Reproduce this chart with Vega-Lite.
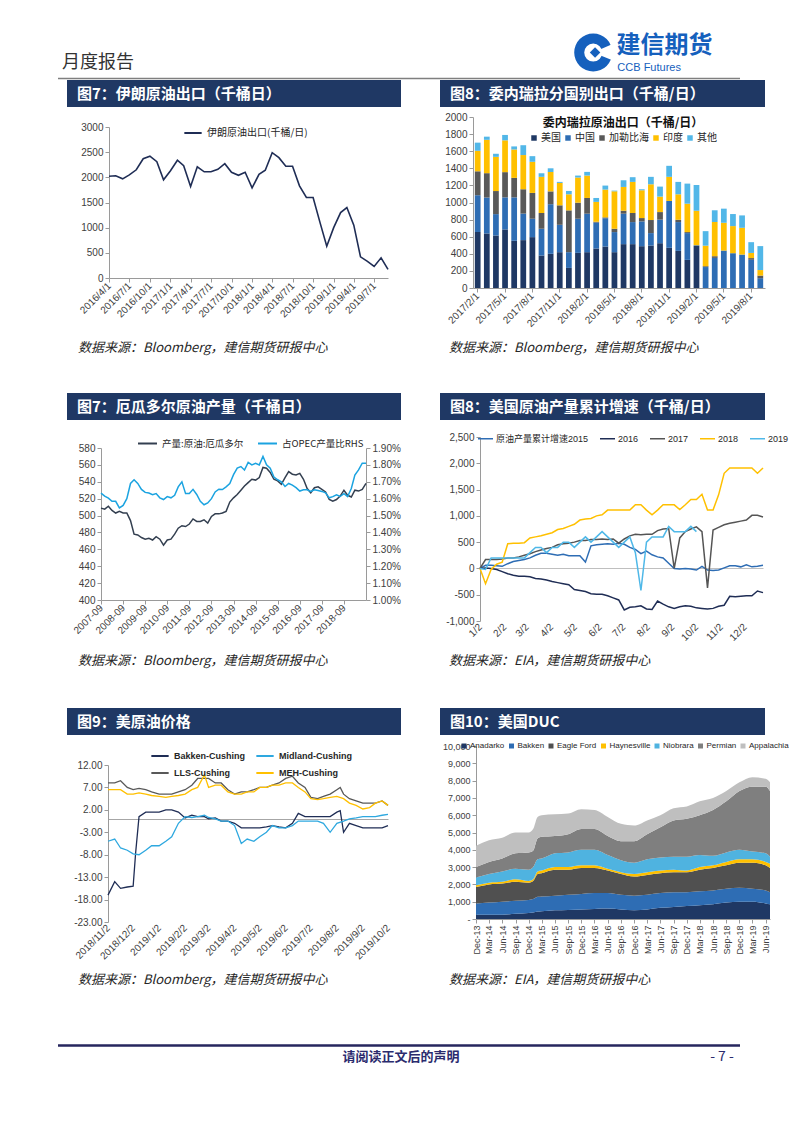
{
"$schema": "https://vega.github.io/schema/vega-lite/v6.json",
"background": "white",
"padding": 0,
"autosize": {"type": "pad"},
"columns": 4,
"spacing": 0,
"align": "each",
"bounds": "flush",
"resolve": {"scale": {"color": "independent", "strokeWidth": "independent", "x": "independent", "y": "independent"}, "legend": {"color": "independent", "strokeWidth": "independent"}, "axis": {"x": "independent", "y": "independent"}},
"config": {
  "view": {"stroke": null},
  "font": "Noto Sans CJK SC",
  "axis": {"labelFont": "Liberation Sans", "labelFontSize": 10, "labelColor": "#404040", "domainColor": "#9A9A9A", "tickColor": "#9A9A9A", "tickSize": 4, "grid": false, "labelPadding": 2, "labelOverlap": false, "labelFlush": false, "labelBound": false},
  "legend": {"labelFont": "Noto Sans CJK SC", "labelFontSize": 10, "labelColor": "#262626", "padding": 0},
  "text": {"font": "Noto Sans CJK SC"}
},
"concat": [
{"width":67,"height":1,"data":{"values":[]},"mark":"point"},
{"width":1,"height":33,"data":{"values":[]},"mark":"point"},
{"width":39,"height":1,"data":{"values":[]},"mark":"point"},
{"width":1,"height":1,"data":{"values":[]},"mark":"point"},

{"width":67,"height":1,"data":{"values":[]},"mark":"point"},
{"width":334,"height":44,"data":{"values":[{"文字":"月度报告"}]},"mark":{"type":"text","align":"left","baseline":"bottom","dx":-5,"dy":-5,"fontSize":18,"color":"#333333"},"encoding":{"text":{"field":"文字"},"x":{"datum":0,"type":"quantitative","scale":{"domain":[0,1]},"axis":null},"y":{"datum":0,"type":"quantitative","scale":{"domain":[0,1]},"axis":null}}},
{"width":39,"height":1,"data":{"values":[]},"mark":"point"},
{"width":325,"height":44,"data":{"values":[{"中文":"建信期货","英文":"CCB Futures"}]},"layer":[
  {"mark":{"type":"arc","innerRadius":9,"outerRadius":19,"theta":0,"theta2":6.2832,"color":"#1560BD"},"encoding":{"x":{"datum":165,"type":"quantitative","scale":{"domain":[0,325]},"axis":null},"y":{"datum":20,"type":"quantitative","scale":{"domain":[0,44],"reverse":true},"axis":null}}},
  {"mark":{"type":"arc","innerRadius":8,"outerRadius":20,"theta":1.15,"theta2":1.95,"color":"white"},"encoding":{"x":{"datum":165,"type":"quantitative","axis":null},"y":{"datum":20,"type":"quantitative","axis":null}}},
  {"mark":{"type":"point","shape":"diamond","filled":true,"size":110,"color":"#1560BD","opacity":1},"encoding":{"x":{"datum":167,"type":"quantitative","axis":null},"y":{"datum":20,"type":"quantitative","axis":null}}},
  {"mark":{"type":"text","align":"left","baseline":"top","fontSize":24,"fontWeight":"bold","color":"#1560BD"},"encoding":{"text":{"field":"中文"},"x":{"datum":190,"type":"quantitative","axis":null},"y":{"datum":1,"type":"quantitative","axis":null}}},
  {"mark":{"type":"text","align":"left","baseline":"bottom","fontSize":11,"font":"Liberation Sans","color":"#1560BD"},"encoding":{"text":{"field":"英文"},"x":{"datum":191,"type":"quantitative","axis":null},"y":{"datum":41,"type":"quantitative","axis":null}}}
]},

{"width":67,"height":3,"data":{"values":[{}]},"mark":{"type":"rule","color":"#7F7F7F","strokeWidth":1.5},"encoding":{"x":{"datum":58,"type":"quantitative","scale":{"domain":[0,67]},"axis":null},"x2":{"datum":67},"y":{"datum":0.5,"type":"quantitative","scale":{"domain":[0,1]},"axis":null}}},
{"width":334,"height":3,"data":{"values":[{}]},"mark":{"type":"rule","color":"#7F7F7F","strokeWidth":1.5},"encoding":{"y":{"datum":0.5,"type":"quantitative","scale":{"domain":[0,1]},"axis":null}}},
{"width":39,"height":3,"data":{"values":[{}]},"mark":{"type":"rule","color":"#7F7F7F","strokeWidth":1.5},"encoding":{"y":{"datum":0.5,"type":"quantitative","scale":{"domain":[0,1]},"axis":null}}},
{"width":325,"height":3,"data":{"values":[{}]},"mark":{"type":"rule","color":"#7F7F7F","strokeWidth":1.5},"encoding":{"x":{"datum":0,"type":"quantitative","scale":{"domain":[0,325]},"axis":null},"x2":{"datum":300},"y":{"datum":0.5,"type":"quantitative","scale":{"domain":[0,1]},"axis":null}}},

{"width":67,"height":1,"data":{"values":[]},"mark":"point"},
{"width":334,"height":27,"view":{"fill":"#1F3864"},"data":{"values":[{"标题":"图7：伊朗原油出口（千桶日）"}]},"mark":{"type":"text","align":"left","baseline":"middle","dx":10,"fontSize":15,"fontWeight":"bold","color":"white"},"encoding":{"text":{"field":"标题"},"x":{"datum":0,"type":"quantitative","scale":{"domain":[0,1]},"axis":null}}},
{"width":39,"height":1,"data":{"values":[]},"mark":"point"},
{"width":325,"height":27,"view":{"fill":"#1F3864"},"data":{"values":[{"标题":"图8：委内瑞拉分国别出口（千桶/日）"}]},"mark":{"type":"text","align":"left","baseline":"middle","dx":10,"fontSize":15,"fontWeight":"bold","color":"white"},"encoding":{"text":{"field":"标题"},"x":{"datum":0,"type":"quantitative","scale":{"domain":[0,1]},"axis":null}}},

{"width":67,"height":1,"data":{"values":[]},"mark":"point"},
{"width":1,"height":10,"data":{"values":[]},"mark":"point"},
{"width":39,"height":1,"data":{"values":[]},"mark":"point"},
{"width":1,"height":1,"data":{"values":[]},"mark":"point"},

{"width":67,"height":1,"data":{"values":[]},"mark":"point"},
{"width":334,"height":171,
 "data":{"values":[
  {"月份":"2016-04-01","出口":2020},{"月份":"2016-05-01","出口":2030},{"月份":"2016-06-01","出口":1970},{"月份":"2016-07-01","出口":2050},{"月份":"2016-08-01","出口":2150},{"月份":"2016-09-01","出口":2370},{"月份":"2016-10-01","出口":2420},{"月份":"2016-11-01","出口":2310},{"月份":"2016-12-01","出口":1950},
  {"月份":"2017-01-01","出口":2130},{"月份":"2017-02-01","出口":2340},{"月份":"2017-03-01","出口":2230},{"月份":"2017-04-01","出口":1820},{"月份":"2017-05-01","出口":2210},{"月份":"2017-06-01","出口":2110},{"月份":"2017-07-01","出口":2110},{"月份":"2017-08-01","出口":2160},{"月份":"2017-09-01","出口":2270},{"月份":"2017-10-01","出口":2100},{"月份":"2017-11-01","出口":2040},{"月份":"2017-12-01","出口":2100},
  {"月份":"2018-01-01","出口":1790},{"月份":"2018-02-01","出口":2060},{"月份":"2018-03-01","出口":2140},{"月份":"2018-04-01","出口":2490},{"月份":"2018-05-01","出口":2390},{"月份":"2018-06-01","出口":2220},{"月份":"2018-07-01","出口":2220},{"月份":"2018-08-01","出口":1830},{"月份":"2018-09-01","出口":1600},{"月份":"2018-10-01","出口":1600},{"月份":"2018-11-01","出口":1100},{"月份":"2018-12-01","出口":630},
  {"月份":"2019-01-01","出口":1000},{"月份":"2019-02-01","出口":1300},{"月份":"2019-03-01","出口":1400},{"月份":"2019-04-01","出口":1050},{"月份":"2019-05-01","出口":420},{"月份":"2019-06-01","出口":330},{"月份":"2019-07-01","出口":230},{"月份":"2019-08-01","出口":400},{"月份":"2019-09-01","出口":170}
 ]},
 "mark":{"type":"line","strokeWidth":1.6},
 "encoding":{
  "x":{"field":"月份","type":"temporal","scale":{"type":"utc","range":[42,321],"domain":[{"year":2016,"month":4,"date":1,"utc":true},{"year":2019,"month":9,"date":1,"utc":true}]},
       "axis":{"title":null,"offset":-10,"format":"%Y/%-m/%-d","labelAngle":-45,"labelAlign":"right","labelBaseline":"middle",
       "values":[{"year":2016,"month":4,"date":1,"utc":true},{"year":2016,"month":7,"date":1,"utc":true},{"year":2016,"month":10,"date":1,"utc":true},{"year":2017,"month":1,"date":1,"utc":true},{"year":2017,"month":4,"date":1,"utc":true},{"year":2017,"month":7,"date":1,"utc":true},{"year":2017,"month":10,"date":1,"utc":true},{"year":2018,"month":1,"date":1,"utc":true},{"year":2018,"month":4,"date":1,"utc":true},{"year":2018,"month":7,"date":1,"utc":true},{"year":2018,"month":10,"date":1,"utc":true},{"year":2019,"month":1,"date":1,"utc":true},{"year":2019,"month":4,"date":1,"utc":true},{"year":2019,"month":7,"date":1,"utc":true}]}},
  "y":{"field":"出口","type":"quantitative","scale":{"domain":[0,3000],"range":[161,10]},"axis":{"title":null,"offset":-42,"format":"d","labelOverlap":false,"values":[0,500,1000,1500,2000,2500,3000]}},
  "color":{"datum":"伊朗原油出口(千桶/日)","type":"nominal","scale":{"domain":["伊朗原油出口(千桶/日)"],"range":["#1F2D55"]},"legend":{"orient":"none","legendX":116,"legendY":6,"title":null,"symbolType":"stroke","symbolSize":300,"symbolStrokeWidth":2}}
 }},
{"width":39,"height":1,"data":{"values":[]},"mark":"point"},
{"width":325,"height":171,
 "data":{"values":[
  {"月份":"2017/2/1","美国":655,"中国":430,"加勒比海":280,"印度":240,"其他":95},
  {"月份":"2017/3/1","美国":638,"中国":420,"加勒比海":285,"印度":390,"其他":37},
  {"月份":"2017/4/1","美国":614,"中国":250,"加勒比海":270,"印度":400,"其他":36},
  {"月份":"2017/5/1","美国":685,"中国":375,"加勒比海":295,"印度":372,"其他":63},
  {"月份":"2017/6/1","美国":552,"中国":508,"加勒比海":228,"印度":332,"其他":36},
  {"月份":"2017/7/1","美国":560,"中国":310,"加勒比海":285,"印度":400,"其他":115},
  {"月份":"2017/8/1","美国":595,"中国":215,"加勒比海":302,"印度":364,"其他":66},
  {"月份":"2017/9/1","美国":380,"中国":313,"加勒比海":184,"印度":423,"其他":42},
  {"月份":"2017/10/1","美国":400,"中国":580,"加勒比海":150,"印度":227,"其他":43},
  {"月份":"2017/11/1","美国":419,"中国":320,"加勒比海":228,"印度":262,"其他":12},
  {"月份":"2017/12/1","美国":235,"中国":184,"加勒比海":489,"印度":188,"其他":39},
  {"月份":"2018/1/1","美国":411,"中国":399,"加勒比海":188,"印度":294,"其他":23},
  {"月份":"2018/2/1","美国":419,"中国":450,"加勒比海":184,"印度":262,"其他":43},
  {"月份":"2018/3/1","美国":462,"中国":303,"加勒比海":10,"印度":232,"其他":46},
  {"月份":"2018/4/1","美国":485,"中国":331,"加勒比海":10,"印度":325,"其他":47},
  {"月份":"2018/5/1","美国":419,"中国":235,"加勒比海":39,"印度":438,"其他":8},
  {"月份":"2018/6/1","美国":513,"中国":356,"加勒比海":35,"印度":278,"其他":78},
  {"月份":"2018/7/1","美国":513,"中国":258,"加勒比海":106,"印度":364,"其他":55},
  {"月份":"2018/8/1","美国":489,"中国":290,"加勒比海":39,"印度":325,"其他":12},
  {"月份":"2018/9/1","美国":497,"中国":145,"加勒比海":153,"印度":418,"其他":87},
  {"月份":"2018/10/1","美国":524,"中国":276,"加勒比海":88,"印度":181,"其他":117},
  {"月份":"2018/11/1","美国":470,"中国":548,"加勒比海":0,"印度":282,"其他":129},
  {"月份":"2018/12/1","美国":434,"中国":337,"加勒比海":27,"印度":298,"其他":145},
  {"月份":"2019/1/1","美国":329,"中国":313,"加勒比海":12,"印度":332,"其他":235},
  {"月份":"2019/2/1","美国":490,"中国":10,"加勒比海":0,"印度":403,"其他":302},
  {"月份":"2019/3/1","美国":0,"中国":245,"加勒比海":10,"印度":240,"其他":170},
  {"月份":"2019/4/1","美国":0,"中国":352,"加勒比海":20,"印度":400,"其他":137},
  {"月份":"2019/5/1","美国":0,"中国":438,"加勒比海":0,"印度":325,"其他":165},
  {"月份":"2019/6/1","美国":0,"中国":407,"加勒比海":0,"印度":317,"其他":141},
  {"月份":"2019/7/1","美国":0,"中国":391,"加勒比海":0,"印度":313,"其他":145},
  {"月份":"2019/8/1","美国":0,"中国":330,"加勒比海":20,"印度":60,"其他":126},
  {"月份":"2019/9/1","美国":0,"中国":115,"加勒比海":30,"印度":65,"其他":280}
 ]},
 "transform":[
  {"fold":["美国","中国","加勒比海","印度","其他"],"as":["去向","千桶日"]},
  {"lookup":"去向","from":{"data":{"values":[{"去向":"美国","序":1},{"去向":"中国","序":2},{"去向":"加勒比海","序":3},{"去向":"印度","序":4},{"去向":"其他","序":5}]},"key":"去向","fields":["序"]}}
 ],
 "mark":{"type":"bar"},
 "encoding":{
  "x":{"field":"月份","type":"ordinal","sort":null,"scale":{"range":[33,325],"paddingInner":0.37,"paddingOuter":0.2},"axis":{"title":null,"labelAngle":-45,"labelAlign":"right","labelBaseline":"middle","values":["2017/2/1","2017/5/1","2017/8/1","2017/11/1","2018/2/1","2018/5/1","2018/8/1","2018/11/1","2019/2/1","2019/5/1","2019/8/1"]}},
  "y":{"field":"千桶日","type":"quantitative","stack":"zero","scale":{"domain":[0,2000]},"axis":{"title":null,"offset":-33,"format":"d","labelOverlap":false,"values":[0,200,400,600,800,1000,1200,1400,1600,1800,2000]}},
  "color":{"field":"去向","type":"nominal","scale":{"domain":["美国","中国","加勒比海","印度","其他"],"range":["#1F3864","#2E6DB4","#595959","#FFC000","#52B7E8"]},
    "legend":{"orient":"none","legendX":89,"legendY":1,"direction":"horizontal","title":"委内瑞拉原油出口（千桶/日）","titleFontSize":12,"titleFontWeight":"bold","titleColor":"#111111","titleAnchor":"middle","titleLimit":400,"titlePadding":3,"symbolType":"square","symbolSize":30,"columnPadding":2,"labelOffset":2}},
  "order":{"field":"序","type":"quantitative"}
 }},

{"width":67,"height":1,"data":{"values":[]},"mark":"point"},
{"width":1,"height":50,"data":{"values":[]},"mark":"point"},
{"width":39,"height":1,"data":{"values":[]},"mark":"point"},
{"width":1,"height":1,"data":{"values":[]},"mark":"point"},

{"width":67,"height":1,"data":{"values":[]},"mark":"point"},
{"width":334,"height":20,"data":{"values":[{"来源":"数据来源：Bloomberg，建信期货研报中心"}]},"mark":{"type":"text","align":"left","baseline":"middle","dx":11,"fontSize":13,"fontStyle":"italic","color":"#262626"},"encoding":{"text":{"field":"来源"},"x":{"datum":0,"type":"quantitative","scale":{"domain":[0,1]},"axis":null}}},
{"width":39,"height":1,"data":{"values":[]},"mark":"point"},
{"width":325,"height":20,"data":{"values":[{"来源":"数据来源：Bloomberg，建信期货研报中心"}]},"mark":{"type":"text","align":"left","baseline":"middle","dx":9,"fontSize":13,"fontStyle":"italic","color":"#262626"},"encoding":{"text":{"field":"来源"},"x":{"datum":0,"type":"quantitative","scale":{"domain":[0,1]},"axis":null}}},

{"width":67,"height":1,"data":{"values":[]},"mark":"point"},
{"width":1,"height":35,"data":{"values":[]},"mark":"point"},
{"width":39,"height":1,"data":{"values":[]},"mark":"point"},
{"width":1,"height":1,"data":{"values":[]},"mark":"point"},

{"width":67,"height":1,"data":{"values":[]},"mark":"point"},
{"width":334,"height":27,"view":{"fill":"#1F3864"},"data":{"values":[{"标题":"图7：厄瓜多尔原油产量（千桶日）"}]},"mark":{"type":"text","align":"left","baseline":"middle","dx":10,"fontSize":15,"fontWeight":"bold","color":"white"},"encoding":{"text":{"field":"标题"},"x":{"datum":0,"type":"quantitative","scale":{"domain":[0,1]},"axis":null}}},
{"width":39,"height":1,"data":{"values":[]},"mark":"point"},
{"width":325,"height":27,"view":{"fill":"#1F3864"},"data":{"values":[{"标题":"图8：美国原油产量累计增速（千桶/日）"}]},"mark":{"type":"text","align":"left","baseline":"middle","dx":10,"fontSize":15,"fontWeight":"bold","color":"white"},"encoding":{"text":{"field":"标题"},"x":{"datum":0,"type":"quantitative","scale":{"domain":[0,1]},"axis":null}}},

{"width":67,"height":1,"data":{"values":[]},"mark":"point"},
{"width":1,"height":17,"data":{"values":[]},"mark":"point"},
{"width":39,"height":1,"data":{"values":[]},"mark":"point"},
{"width":1,"height":1,"data":{"values":[]},"mark":"point"},

{"width":67,"height":1,"data":{"values":[]},"mark":"point"},
{"width":334,"height":184,
 "data":{"values":[
  {"月份":"2007-09-01","产量":508.8,"占比":0.01633},{"月份":"2007-11-01","产量":507.6,"占比":0.01615},{"月份":"2008-01-01","产量":511,"占比":0.01603},{"月份":"2008-03-01","产量":506,"占比":0.01584},{"月份":"2008-05-01","产量":503,"占比":0.01584},{"月份":"2008-07-01","产量":505,"占比":0.01545},{"月份":"2008-09-01","产量":503,"占比":0.0156},{"月份":"2008-11-01","产量":503,"占比":0.016},
  {"月份":"2009-01-01","产量":494,"占比":0.0169},{"月份":"2009-03-01","产量":478,"占比":0.01712},{"月份":"2009-05-01","产量":477,"占比":0.0169},{"月份":"2009-07-01","产量":474,"占比":0.01655},{"月份":"2009-09-01","产量":472,"占比":0.01637},{"月份":"2009-11-01","产量":473,"占比":0.01633},
  {"月份":"2010-01-01","产量":471,"占比":0.01623},{"月份":"2010-03-01","产量":475,"占比":0.0163},{"月份":"2010-05-01","产量":472,"占比":0.01605},{"月份":"2010-07-01","产量":465,"占比":0.01595},{"月份":"2010-09-01","产量":471,"占比":0.01612},{"月份":"2010-11-01","产量":472,"占比":0.01605},
  {"月份":"2011-01-01","产量":478,"占比":0.0162},{"月份":"2011-03-01","产量":485,"占比":0.0167},{"月份":"2011-05-01","产量":488,"占比":0.017},{"月份":"2011-07-01","产量":487,"占比":0.0163},{"月份":"2011-09-01","产量":490,"占比":0.0163},{"月份":"2011-11-01","产量":496,"占比":0.01655},
  {"月份":"2012-01-01","产量":493,"占比":0.01625},{"月份":"2012-03-01","产量":493,"占比":0.01584},{"月份":"2012-05-01","产量":495,"占比":0.01564},{"月份":"2012-07-01","产量":491,"占比":0.01575},{"月份":"2012-09-01","产量":499,"占比":0.016},{"月份":"2012-11-01","产量":502,"占比":0.0164},
  {"月份":"2013-01-01","产量":502,"占比":0.01656},{"月份":"2013-03-01","产量":503,"占比":0.01654},{"月份":"2013-05-01","产量":505,"占比":0.0167},{"月份":"2013-07-01","产量":516,"占比":0.0169},{"月份":"2013-09-01","产量":521,"占比":0.01742},{"月份":"2013-11-01","产量":525,"占比":0.01781},
  {"月份":"2014-01-01","产量":530,"占比":0.0179},{"月份":"2014-03-01","产量":535,"占比":0.0177},{"月份":"2014-05-01","产量":539,"占比":0.01815},{"月份":"2014-07-01","产量":543,"占比":0.018},{"月份":"2014-09-01","产量":542,"占比":0.0181},{"月份":"2014-11-01","产量":545,"占比":0.018},
  {"月份":"2015-01-01","产量":557,"占比":0.0185},{"月份":"2015-03-01","产量":556,"占比":0.018},{"月份":"2015-05-01","产量":551,"占比":0.0178},{"月份":"2015-07-01","产量":543,"占比":0.01728},{"月份":"2015-09-01","产量":541,"占比":0.01712},{"月份":"2015-11-01","产量":537,"占比":0.017},
  {"月份":"2016-01-01","产量":545,"占比":0.01672},{"月份":"2016-03-01","产量":552,"占比":0.0169},{"月份":"2016-05-01","产量":549,"占比":0.0168},{"月份":"2016-07-01","产量":548,"占比":0.01665},{"月份":"2016-09-01","产量":550,"占比":0.01645},{"月份":"2016-11-01","产量":543,"占比":0.01653},
  {"月份":"2017-01-01","产量":532,"占比":0.01653},{"月份":"2017-03-01","产量":527,"占比":0.01643},{"月份":"2017-05-01","产量":533,"占比":0.01653},{"月份":"2017-07-01","产量":534,"占比":0.01648},{"月份":"2017-09-01","产量":531,"占比":0.01643},{"月份":"2017-11-01","产量":528,"占比":0.01635},
  {"月份":"2018-01-01","产量":519,"占比":0.01605},{"月份":"2018-03-01","产量":517,"占比":0.01612},{"月份":"2018-05-01","产量":519,"占比":0.01623},{"月份":"2018-07-01","产量":523,"占比":0.01613},{"月份":"2018-09-01","产量":530,"占比":0.0163},{"月份":"2018-11-01","产量":524,"占比":0.01613},
  {"月份":"2019-01-01","产量":522,"占比":0.0166},{"月份":"2019-03-01","产量":530,"占比":0.0174},{"月份":"2019-05-01","产量":529,"占比":0.0177},{"月份":"2019-07-01","产量":531,"占比":0.0181},{"月份":"2019-09-01","产量":538,"占比":0.0181}
 ]},
 "encoding":{
  "x":{"field":"月份","type":"temporal","scale":{"type":"utc","range":[34,299],"domain":[{"year":2007,"month":9,"date":1,"utc":true},{"year":2019,"month":9,"date":1,"utc":true}]},
       "axis":{"title":null,"offset":-21,"format":"%Y-%m","labelAngle":-45,"labelAlign":"right","labelBaseline":"middle",
       "values":[{"year":2007,"month":9,"date":1,"utc":true},{"year":2008,"month":9,"date":1,"utc":true},{"year":2009,"month":9,"date":1,"utc":true},{"year":2010,"month":9,"date":1,"utc":true},{"year":2011,"month":9,"date":1,"utc":true},{"year":2012,"month":9,"date":1,"utc":true},{"year":2013,"month":9,"date":1,"utc":true},{"year":2014,"month":9,"date":1,"utc":true},{"year":2015,"month":9,"date":1,"utc":true},{"year":2016,"month":9,"date":1,"utc":true},{"year":2017,"month":9,"date":1,"utc":true},{"year":2018,"month":9,"date":1,"utc":true}]}}
 },
 "layer":[
  {"mark":{"type":"line","strokeWidth":1.5},
   "encoding":{
    "y":{"field":"产量","type":"quantitative","scale":{"domain":[400,580],"range":[163,11]},"axis":{"title":null,"offset":-34,"format":"d","labelOverlap":false,"values":[400,420,440,460,480,500,520,540,560,580]}},
    "color":{"datum":"产量:原油:厄瓜多尔","type":"nominal","scale":{"domain":["产量:原油:厄瓜多尔","占OPEC产量比RHS"],"range":["#333F50","#1BA3E0"]},
      "legend":{"orient":"none","legendX":70,"legendY":-4,"direction":"horizontal","title":null,"symbolType":"stroke","symbolSize":360,"symbolStrokeWidth":2,"columnPadding":10,"labelFontSize":9.5}}
   }},
  {"mark":{"type":"line","strokeWidth":1.5},
   "encoding":{
    "y":{"field":"占比","type":"quantitative","scale":{"domain":[0.01,0.019],"range":[163,11]},"axis":{"title":null,"orient":"right","offset":-35,"format":".2%","labelOverlap":false,"values":[0.01,0.011,0.012,0.013,0.014,0.015,0.016,0.017,0.018,0.019]}},
    "color":{"datum":"占OPEC产量比RHS","type":"nominal"}
   }}
 ],
 "resolve":{"scale":{"y":"independent"}}
},
{"width":39,"height":1,"data":{"values":[]},"mark":"point"},
{"width":325,"height":184,
 "data":{"values":[
  {"周":"2019-01-02","原油产量累计增速2015":0,"2016":0,"2017":0,"2018":0,"2019":0},
  {"周":"2019-01-09","原油产量累计增速2015":60,"2016":10,"2017":170,"2018":-290,"2019":-20},
  {"周":"2019-01-16","原油产量累计增速2015":60,"2016":0,"2017":170,"2018":-20,"2019":200},
  {"周":"2019-01-23","原油产量累计增速2015":50,"2016":-20,"2017":170,"2018":80,"2019":200},
  {"周":"2019-01-30","原油产量累计增速2015":40,"2016":-60,"2017":180,"2018":120,"2019":200},
  {"周":"2019-02-06","原油产量累计增速2015":90,"2016":-100,"2017":200,"2018":470,"2019":200},
  {"周":"2019-02-13","原油产量累计增速2015":130,"2016":-130,"2017":200,"2018":480,"2019":200},
  {"周":"2019-02-20","原油产量累计增速2015":150,"2016":-150,"2017":220,"2018":480,"2019":200},
  {"周":"2019-02-27","原油产量累计增速2015":170,"2016":-150,"2017":250,"2018":490,"2019":200},
  {"周":"2019-03-06","原油产量累计增速2015":200,"2016":-160,"2017":280,"2018":580,"2019":300},
  {"周":"2019-03-13","原油产量累计增速2015":250,"2016":-190,"2017":320,"2018":600,"2019":400},
  {"周":"2019-03-20","原油产量累计增速2015":290,"2016":-200,"2017":350,"2018":620,"2019":400},
  {"周":"2019-03-27","原油产量累计增速2015":290,"2016":-220,"2017":380,"2018":650,"2019":300},
  {"周":"2019-04-03","原油产量累计增速2015":270,"2016":-250,"2017":400,"2018":680,"2019":400},
  {"周":"2019-04-10","原油产量累计增速2015":250,"2016":-270,"2017":450,"2018":740,"2019":400},
  {"周":"2019-04-17","原油产量累计增速2015":270,"2016":-290,"2017":470,"2018":760,"2019":500},
  {"周":"2019-04-24","原油产量累计增速2015":240,"2016":-310,"2017":480,"2018":800,"2019":500},
  {"周":"2019-05-01","原油产量累计增速2015":240,"2016":-400,"2017":500,"2018":840,"2019":400},
  {"周":"2019-05-08","原油产量累计增速2015":240,"2016":-420,"2017":530,"2018":920,"2019":500},
  {"周":"2019-05-15","原油产量累计增速2015":120,"2016":-440,"2017":530,"2018":940,"2019":600},
  {"周":"2019-05-22","原油产量累计增速2015":430,"2016":-480,"2017":550,"2018":950,"2019":500},
  {"周":"2019-05-29","原油产量累计增速2015":450,"2016":-490,"2017":550,"2018":1000,"2019":600},
  {"周":"2019-06-05","原油产量累计增速2015":460,"2016":-490,"2017":560,"2018":1020,"2019":700},
  {"周":"2019-06-12","原油产量累计增速2015":470,"2016":-520,"2017":550,"2018":1110,"2019":600},
  {"周":"2019-06-19","原油产量累计增速2015":460,"2016":-560,"2017":560,"2018":1110,"2019":500},
  {"周":"2019-06-26","原油产量累计增速2015":480,"2016":-600,"2017":480,"2018":1110,"2019":400},
  {"周":"2019-07-03","原油产量累计增速2015":460,"2016":-790,"2017":560,"2018":1110,"2019":500},
  {"周":"2019-07-10","原油产量累计增速2015":400,"2016":-740,"2017":620,"2018":1110,"2019":600},
  {"周":"2019-07-17","原油产量累计增速2015":360,"2016":-730,"2017":650,"2018":1210,"2019":300},
  {"周":"2019-07-24","原油产量累计增速2015":280,"2016":-710,"2017":640,"2018":1210,"2019":-420},
  {"周":"2019-07-31","原油产量累计增速2015":330,"2016":-770,"2017":650,"2018":1110,"2019":500},
  {"周":"2019-08-07","原油产量累计增速2015":260,"2016":-780,"2017":650,"2018":1020,"2019":600},
  {"周":"2019-08-14","原油产量累计增速2015":220,"2016":-620,"2017":720,"2018":1110,"2019":600},
  {"周":"2019-08-21","原油产量累计增速2015":200,"2016":-680,"2017":750,"2018":1210,"2019":600},
  {"周":"2019-08-28","原油产量累计增速2015":100,"2016":-730,"2017":760,"2018":1210,"2019":800},
  {"周":"2019-09-04","原油产量累计增速2015":0,"2016":-760,"2017":0,"2018":1210,"2019":700},
  {"周":"2019-09-11","原油产量累计增速2015":-10,"2016":-730,"2017":580,"2018":1120,"2019":700},
  {"周":"2019-09-18","原油产量累计增速2015":0,"2016":-710,"2017":700,"2018":1210,"2019":700},
  {"周":"2019-09-25","原油产量累计增速2015":-10,"2016":-720,"2017":750,"2018":1310,"2019":800},
  {"周":"2019-10-02","原油产量累计增速2015":-30,"2016":-750,"2017":790,"2018":1310,"2019":700},
  {"周":"2019-10-09","原油产量累计增速2015":40,"2016":-760,"2017":700,"2018":1410,"2019":null},
  {"周":"2019-10-16","原油产量累计增速2015":-30,"2016":-770,"2017":-370,"2018":1110,"2019":null},
  {"周":"2019-10-23","原油产量累计增速2015":-40,"2016":-760,"2017":730,"2018":1110,"2019":null},
  {"周":"2019-10-30","原油产量累计增速2015":-30,"2016":-720,"2017":780,"2018":1400,"2019":null},
  {"周":"2019-11-06","原油产量累计增速2015":10,"2016":-700,"2017":830,"2018":1810,"2019":null},
  {"周":"2019-11-13","原油产量累计增速2015":50,"2016":-530,"2017":860,"2018":1910,"2019":null},
  {"周":"2019-11-20","原油产量累计增速2015":50,"2016":-540,"2017":880,"2018":1910,"2019":null},
  {"周":"2019-11-27","原油产量累计增速2015":30,"2016":-530,"2017":900,"2018":1910,"2019":null},
  {"周":"2019-12-04","原油产量累计增速2015":70,"2016":-520,"2017":920,"2018":1910,"2019":null},
  {"周":"2019-12-11","原油产量累计增速2015":30,"2016":-520,"2017":1010,"2018":1910,"2019":null},
  {"周":"2019-12-18","原油产量累计增速2015":40,"2016":-430,"2017":1010,"2018":1810,"2019":null},
  {"周":"2019-12-25","原油产量累计增速2015":60,"2016":-460,"2017":980,"2018":1910,"2019":null}
 ]},
 "transform":[{"fold":["原油产量累计增速2015","2016","2017","2018","2019"],"as":["系列","增量"]},{"filter":"isValid(datum['增量'])"}],
 "mark":{"type":"line"},
 "encoding":{
  "x":{"field":"周","type":"temporal","scale":{"type":"utc","range":[40,323],"domain":[{"year":2019,"month":1,"date":2,"utc":true},{"year":2019,"month":12,"date":25,"utc":true}]},
    "axis":{"title":null,"format":"%-m/%-d","labelAngle":-45,"labelAlign":"right","labelBaseline":"middle","domain":false,"ticks":false,"labelPadding":4,"labelOverlap":false,
    "values":[{"year":2019,"month":1,"date":2,"utc":true},{"year":2019,"month":2,"date":2,"utc":true},{"year":2019,"month":3,"date":2,"utc":true},{"year":2019,"month":4,"date":2,"utc":true},{"year":2019,"month":5,"date":2,"utc":true},{"year":2019,"month":6,"date":2,"utc":true},{"year":2019,"month":7,"date":2,"utc":true},{"year":2019,"month":8,"date":2,"utc":true},{"year":2019,"month":9,"date":2,"utc":true},{"year":2019,"month":10,"date":2,"utc":true},{"year":2019,"month":11,"date":2,"utc":true},{"year":2019,"month":12,"date":2,"utc":true}]}},
  "y":{"field":"增量","type":"quantitative","scale":{"domain":[-1000,2500]},"axis":{"title":null,"offset":-40,"labelOverlap":false,"values":[-1000,-500,0,500,1000,1500,2000,2500],"labelExpr":"replace(format(datum.value, ','), '−', '-')","grid":true,"gridWidth":1,"gridColor":{"condition":{"test":"datum.value === 0","value":"#BFBFBF"},"value":"transparent"}}},
  "color":{"field":"系列","type":"nominal","scale":{"domain":["原油产量累计增速2015","2016","2017","2018","2019"],"range":["#2E6DB4","#1F2D55","#555555","#FFC000","#4FB8E8"]},
    "legend":{"orient":"none","legendX":37,"legendY":-7,"direction":"horizontal","title":null,"symbolType":"stroke","symbolSize":225,"symbolStrokeWidth":2,"columnPadding":8,"labelOffset":2,"labelFontSize":9,"labelFont":"Liberation Sans, Noto Sans CJK SC"}},
  "strokeWidth":{"field":"系列","type":"nominal","scale":{"domain":["原油产量累计增速2015","2016","2017","2018","2019"],"range":[1.5,1.5,1.5,1.5,2.6]},"legend":null}
 }
},

{"width":67,"height":1,"data":{"values":[]},"mark":"point"},
{"width":1,"height":30,"data":{"values":[]},"mark":"point"},
{"width":39,"height":1,"data":{"values":[]},"mark":"point"},
{"width":1,"height":1,"data":{"values":[]},"mark":"point"},

{"width":67,"height":1,"data":{"values":[]},"mark":"point"},
{"width":334,"height":20,"data":{"values":[{"来源":"数据来源：Bloomberg，建信期货研报中心"}]},"mark":{"type":"text","align":"left","baseline":"middle","dx":11,"fontSize":13,"fontStyle":"italic","color":"#262626"},"encoding":{"text":{"field":"来源"},"x":{"datum":0,"type":"quantitative","scale":{"domain":[0,1]},"axis":null}}},
{"width":39,"height":1,"data":{"values":[]},"mark":"point"},
{"width":325,"height":20,"data":{"values":[{"来源":"数据来源：EIA，建信期货研报中心"}]},"mark":{"type":"text","align":"left","baseline":"middle","dx":9,"fontSize":13,"fontStyle":"italic","color":"#262626"},"encoding":{"text":{"field":"来源"},"x":{"datum":0,"type":"quantitative","scale":{"domain":[0,1]},"axis":null}}},

{"width":67,"height":1,"data":{"values":[]},"mark":"point"},
{"width":1,"height":37,"data":{"values":[]},"mark":"point"},
{"width":39,"height":1,"data":{"values":[]},"mark":"point"},
{"width":1,"height":1,"data":{"values":[]},"mark":"point"},

{"width":67,"height":1,"data":{"values":[]},"mark":"point"},
{"width":334,"height":27,"view":{"fill":"#1F3864"},"data":{"values":[{"标题":"图9：美原油价格"}]},"mark":{"type":"text","align":"left","baseline":"middle","dx":10,"fontSize":15,"fontWeight":"bold","color":"white"},"encoding":{"text":{"field":"标题"},"x":{"datum":0,"type":"quantitative","scale":{"domain":[0,1]},"axis":null}}},
{"width":39,"height":1,"data":{"values":[]},"mark":"point"},
{"width":325,"height":27,"view":{"fill":"#1F3864"},"data":{"values":[{"标题":"图10：美国DUC"}]},"mark":{"type":"text","align":"left","baseline":"middle","dx":10,"fontSize":15,"fontWeight":"bold","color":"white"},"encoding":{"text":{"field":"标题"},"x":{"datum":0,"type":"quantitative","scale":{"domain":[0,1]},"axis":null}}},

{"width":67,"height":1,"data":{"values":[]},"mark":"point"},
{"width":1,"height":11,"data":{"values":[]},"mark":"point"},
{"width":39,"height":1,"data":{"values":[]},"mark":"point"},
{"width":1,"height":1,"data":{"values":[]},"mark":"point"},

{"width":67,"height":1,"data":{"values":[]},"mark":"point"},
{"width":334,"height":176,
 "data":{"values":[
  {"日期":"2018-11-02","Bakken-Cushing":-17.0,"Midland-Cushing":-5.0,"LLS-Cushing":8.0,"MEH-Cushing":6.5},
  {"日期":"2018-11-10","Bakken-Cushing":-14.0,"Midland-Cushing":-4.5,"LLS-Cushing":8.0,"MEH-Cushing":6.5},
  {"日期":"2018-11-17","Bakken-Cushing":-15.5,"Midland-Cushing":-6.5,"LLS-Cushing":8.5,"MEH-Cushing":6.5},
  {"日期":"2018-11-25","Bakken-Cushing":-15.2,"Midland-Cushing":-7.0,"LLS-Cushing":7.0,"MEH-Cushing":5.5},
  {"日期":"2018-12-02","Bakken-Cushing":-15.0,"Midland-Cushing":-7.8,"LLS-Cushing":6.5,"MEH-Cushing":5.5},
  {"日期":"2018-12-05","Bakken-Cushing":-7.5,"Midland-Cushing":null,"LLS-Cushing":null,"MEH-Cushing":null},
  {"日期":"2018-12-09","Bakken-Cushing":0.5,"Midland-Cushing":-8.0,"LLS-Cushing":6.8,"MEH-Cushing":5.8},
  {"日期":"2018-12-17","Bakken-Cushing":1.5,"Midland-Cushing":-7.0,"LLS-Cushing":6.5,"MEH-Cushing":5.5},
  {"日期":"2018-12-24","Bakken-Cushing":1.5,"Midland-Cushing":-6.0,"LLS-Cushing":6.0,"MEH-Cushing":5.2},
  {"日期":"2019-01-02","Bakken-Cushing":1.5,"Midland-Cushing":-6.0,"LLS-Cushing":5.5,"MEH-Cushing":5.0},
  {"日期":"2019-01-10","Bakken-Cushing":2.0,"Midland-Cushing":-5.0,"LLS-Cushing":5.5,"MEH-Cushing":4.8},
  {"日期":"2019-01-17","Bakken-Cushing":2.0,"Midland-Cushing":-4.0,"LLS-Cushing":5.5,"MEH-Cushing":5.0},
  {"日期":"2019-01-25","Bakken-Cushing":1.5,"Midland-Cushing":-1.0,"LLS-Cushing":6.0,"MEH-Cushing":5.2},
  {"日期":"2019-02-02","Bakken-Cushing":0.2,"Midland-Cushing":0.5,"LLS-Cushing":6.5,"MEH-Cushing":5.5},
  {"日期":"2019-02-10","Bakken-Cushing":0.8,"Midland-Cushing":0.3,"LLS-Cushing":7.5,"MEH-Cushing":6.5},
  {"日期":"2019-02-17","Bakken-Cushing":0.5,"Midland-Cushing":0.5,"LLS-Cushing":9.0,"MEH-Cushing":7.0},
  {"日期":"2019-02-25","Bakken-Cushing":0.5,"Midland-Cushing":0.8,"LLS-Cushing":9.0,"MEH-Cushing":9.8},
  {"日期":"2019-03-02","Bakken-Cushing":0.0,"Midland-Cushing":0.3,"LLS-Cushing":9.0,"MEH-Cushing":7.0},
  {"日期":"2019-03-10","Bakken-Cushing":0.2,"Midland-Cushing":0.0,"LLS-Cushing":8.0,"MEH-Cushing":7.5},
  {"日期":"2019-03-17","Bakken-Cushing":-0.5,"Midland-Cushing":-0.5,"LLS-Cushing":8.0,"MEH-Cushing":7.5},
  {"日期":"2019-03-25","Bakken-Cushing":-0.5,"Midland-Cushing":-0.5,"LLS-Cushing":6.5,"MEH-Cushing":6.0},
  {"日期":"2019-04-02","Bakken-Cushing":-1.0,"Midland-Cushing":-1.5,"LLS-Cushing":5.5,"MEH-Cushing":5.5},
  {"日期":"2019-04-10","Bakken-Cushing":-2.0,"Midland-Cushing":-5.5,"LLS-Cushing":6.0,"MEH-Cushing":5.5},
  {"日期":"2019-04-17","Bakken-Cushing":-2.0,"Midland-Cushing":-4.5,"LLS-Cushing":6.0,"MEH-Cushing":6.0},
  {"日期":"2019-04-25","Bakken-Cushing":-2.0,"Midland-Cushing":-5.0,"LLS-Cushing":6.5,"MEH-Cushing":6.0},
  {"日期":"2019-05-02","Bakken-Cushing":-2.0,"Midland-Cushing":-4.0,"LLS-Cushing":7.0,"MEH-Cushing":7.0},
  {"日期":"2019-05-10","Bakken-Cushing":-1.8,"Midland-Cushing":-3.0,"LLS-Cushing":7.0,"MEH-Cushing":7.0},
  {"日期":"2019-05-17","Bakken-Cushing":-1.5,"Midland-Cushing":-1.5,"LLS-Cushing":7.5,"MEH-Cushing":7.5},
  {"日期":"2019-05-25","Bakken-Cushing":-1.8,"Midland-Cushing":-2.0,"LLS-Cushing":8.0,"MEH-Cushing":7.5},
  {"日期":"2019-06-02","Bakken-Cushing":-2.0,"Midland-Cushing":-2.0,"LLS-Cushing":9.0,"MEH-Cushing":8.0},
  {"日期":"2019-06-10","Bakken-Cushing":-1.0,"Midland-Cushing":-1.5,"LLS-Cushing":9.5,"MEH-Cushing":8.0},
  {"日期":"2019-06-17","Bakken-Cushing":1.2,"Midland-Cushing":-0.5,"LLS-Cushing":8.0,"MEH-Cushing":7.0},
  {"日期":"2019-06-25","Bakken-Cushing":0.5,"Midland-Cushing":-0.5,"LLS-Cushing":7.0,"MEH-Cushing":6.0},
  {"日期":"2019-07-02","Bakken-Cushing":0.5,"Midland-Cushing":-0.5,"LLS-Cushing":4.8,"MEH-Cushing":4.5},
  {"日期":"2019-07-10","Bakken-Cushing":0.5,"Midland-Cushing":-0.5,"LLS-Cushing":4.5,"MEH-Cushing":4.3},
  {"日期":"2019-07-17","Bakken-Cushing":0.5,"Midland-Cushing":-1.0,"LLS-Cushing":5.0,"MEH-Cushing":4.5},
  {"日期":"2019-07-25","Bakken-Cushing":0.5,"Midland-Cushing":-3.0,"LLS-Cushing":5.5,"MEH-Cushing":4.8},
  {"日期":"2019-08-02","Bakken-Cushing":1.5,"Midland-Cushing":-1.0,"LLS-Cushing":6.5,"MEH-Cushing":5.0},
  {"日期":"2019-08-06","Bakken-Cushing":1.8,"Midland-Cushing":null,"LLS-Cushing":7.0,"MEH-Cushing":null},
  {"日期":"2019-08-10","Bakken-Cushing":-3.0,"Midland-Cushing":-0.5,"LLS-Cushing":5.5,"MEH-Cushing":4.5},
  {"日期":"2019-08-17","Bakken-Cushing":-1.0,"Midland-Cushing":0.0,"LLS-Cushing":4.5,"MEH-Cushing":3.5},
  {"日期":"2019-08-25","Bakken-Cushing":-1.5,"Midland-Cushing":0.2,"LLS-Cushing":4.0,"MEH-Cushing":3.0},
  {"日期":"2019-09-02","Bakken-Cushing":-2.0,"Midland-Cushing":0.5,"LLS-Cushing":3.5,"MEH-Cushing":2.2},
  {"日期":"2019-09-10","Bakken-Cushing":-2.0,"Midland-Cushing":0.5,"LLS-Cushing":3.5,"MEH-Cushing":2.5},
  {"日期":"2019-09-17","Bakken-Cushing":-2.0,"Midland-Cushing":0.5,"LLS-Cushing":3.5,"MEH-Cushing":3.5},
  {"日期":"2019-09-25","Bakken-Cushing":-2.0,"Midland-Cushing":0.8,"LLS-Cushing":4.0,"MEH-Cushing":4.0},
  {"日期":"2019-10-02","Bakken-Cushing":-1.5,"Midland-Cushing":1.0,"LLS-Cushing":3.0,"MEH-Cushing":3.0}
 ]},
 "transform":[{"fold":["Bakken-Cushing","Midland-Cushing","LLS-Cushing","MEH-Cushing"],"as":["线路","价差"]},{"filter":"isValid(datum['价差'])"}],
 "mark":{"type":"line","strokeWidth":1.3},
 "encoding":{
  "x":{"field":"日期","type":"temporal","scale":{"type":"utc","range":[41,321],"domain":[{"year":2018,"month":11,"date":2,"utc":true},{"year":2019,"month":10,"date":2,"utc":true}]},
    "axis":{"title":null,"format":"%Y/%-m/%-d","labelAngle":-45,"labelAlign":"right","labelBaseline":"middle","domain":false,"ticks":false,"labelPadding":4,"labelOverlap":false,
    "values":[{"year":2018,"month":11,"date":2,"utc":true},{"year":2018,"month":12,"date":2,"utc":true},{"year":2019,"month":1,"date":2,"utc":true},{"year":2019,"month":2,"date":2,"utc":true},{"year":2019,"month":3,"date":2,"utc":true},{"year":2019,"month":4,"date":2,"utc":true},{"year":2019,"month":5,"date":2,"utc":true},{"year":2019,"month":6,"date":2,"utc":true},{"year":2019,"month":7,"date":2,"utc":true},{"year":2019,"month":8,"date":2,"utc":true},{"year":2019,"month":9,"date":2,"utc":true},{"year":2019,"month":10,"date":2,"utc":true}]}},
  "y":{"field":"价差","type":"quantitative","scale":{"domain":[-23,12],"range":[176,19]},"axis":{"title":null,"offset":-41,"labelOverlap":false,"values":[-23,-18,-13,-8,-3,0,2,7,12],"labelExpr":"datum.value == 0 ? '' : replace(format(datum.value, '.2f'), '−', '-')","tickColor":{"condition":{"test":"datum.value === 0","value":"transparent"},"value":"#9A9A9A"},"grid":true,"gridWidth":1,"gridColor":{"condition":{"test":"datum.value === 0","value":"#A6A6A6"},"value":"transparent"}}},
  "color":{"field":"线路","type":"nominal","scale":{"domain":["Bakken-Cushing","Midland-Cushing","LLS-Cushing","MEH-Cushing"],"range":["#1F2D55","#2EA8DF","#595959","#FFC000"]},
    "legend":{"orient":"none","legendX":83,"legendY":0,"direction":"horizontal","columns":2,"title":null,"symbolType":"stroke","symbolSize":300,"symbolStrokeWidth":2,"labelFont":"Liberation Sans","labelFontWeight":"bold","labelFontSize":9,"columnPadding":6,"rowPadding":2}}
 }
},
{"width":39,"height":1,"data":{"values":[]},"mark":"point"},
{"width":325,"height":176,
 "data":{"values":[
  {"月份":"2013-12-01","Anadarko":250,"Bakken":650,"Eagle Ford":950,"Haynesville":100,"Niobrara":450,"Permian":600,"Appalachia":1230},
  {"月份":"2014-03-01","Anadarko":250,"Bakken":700,"Eagle Ford":1050,"Haynesville":100,"Niobrara":500,"Permian":700,"Appalachia":1250},
  {"月份":"2014-06-01","Anadarko":250,"Bakken":750,"Eagle Ford":1050,"Haynesville":100,"Niobrara":600,"Permian":750,"Appalachia":1200},
  {"月份":"2014-09-01","Anadarko":300,"Bakken":750,"Eagle Ford":1100,"Haynesville":150,"Niobrara":600,"Permian":900,"Appalachia":1200},
  {"月份":"2014-12-01","Anadarko":350,"Bakken":750,"Eagle Ford":1000,"Haynesville":100,"Niobrara":650,"Permian":1000,"Appalachia":1150},
  {"月份":"2015-01-01","Anadarko":380,"Bakken":770,"Eagle Ford":1050,"Haynesville":100,"Niobrara":700,"Permian":950,"Appalachia":1250},
  {"月份":"2015-02-01","Anadarko":430,"Bakken":850,"Eagle Ford":1320,"Haynesville":150,"Niobrara":700,"Permian":1200,"Appalachia":1250},
  {"月份":"2015-03-01","Anadarko":450,"Bakken":850,"Eagle Ford":1350,"Haynesville":150,"Niobrara":700,"Permian":1250,"Appalachia":1250},
  {"月份":"2015-06-01","Anadarko":500,"Bakken":850,"Eagle Ford":1500,"Haynesville":150,"Niobrara":800,"Permian":1000,"Appalachia":1250},
  {"月份":"2015-09-01","Anadarko":520,"Bakken":880,"Eagle Ford":1450,"Haynesville":150,"Niobrara":850,"Permian":1050,"Appalachia":1200},
  {"月份":"2015-12-01","Anadarko":550,"Bakken":900,"Eagle Ford":1500,"Haynesville":150,"Niobrara":900,"Permian":1200,"Appalachia":1150},
  {"月份":"2016-03-01","Anadarko":580,"Bakken":920,"Eagle Ford":1450,"Haynesville":150,"Niobrara":900,"Permian":1200,"Appalachia":1100},
  {"月份":"2016-06-01","Anadarko":600,"Bakken":900,"Eagle Ford":1300,"Haynesville":100,"Niobrara":800,"Permian":1100,"Appalachia":1100},
  {"月份":"2016-09-01","Anadarko":550,"Bakken":850,"Eagle Ford":1200,"Haynesville":100,"Niobrara":700,"Permian":1100,"Appalachia":1000},
  {"月份":"2016-12-01","Anadarko":500,"Bakken":850,"Eagle Ford":1100,"Haynesville":150,"Niobrara":650,"Permian":1250,"Appalachia":900},
  {"月份":"2017-03-01","Anadarko":550,"Bakken":850,"Eagle Ford":1150,"Haynesville":150,"Niobrara":750,"Permian":1450,"Appalachia":800},
  {"月份":"2017-06-01","Anadarko":650,"Bakken":850,"Eagle Ford":1150,"Haynesville":150,"Niobrara":750,"Permian":1750,"Appalachia":700},
  {"月份":"2017-09-01","Anadarko":700,"Bakken":850,"Eagle Ford":1150,"Haynesville":150,"Niobrara":750,"Permian":2100,"Appalachia":700},
  {"月份":"2017-12-01","Anadarko":750,"Bakken":800,"Eagle Ford":1150,"Haynesville":100,"Niobrara":800,"Permian":2200,"Appalachia":700},
  {"月份":"2018-03-01","Anadarko":800,"Bakken":800,"Eagle Ford":1250,"Haynesville":150,"Niobrara":700,"Permian":2300,"Appalachia":800},
  {"月份":"2018-06-01","Anadarko":850,"Bakken":800,"Eagle Ford":1300,"Haynesville":150,"Niobrara":550,"Permian":2650,"Appalachia":700},
  {"月份":"2018-09-01","Anadarko":950,"Bakken":800,"Eagle Ford":1350,"Haynesville":200,"Niobrara":550,"Permian":2950,"Appalachia":600},
  {"月份":"2018-12-01","Anadarko":1000,"Bakken":800,"Eagle Ford":1450,"Haynesville":200,"Niobrara":550,"Permian":3400,"Appalachia":500},
  {"月份":"2019-03-01","Anadarko":1000,"Bakken":750,"Eagle Ford":1500,"Haynesville":200,"Niobrara":450,"Permian":3750,"Appalachia":550},
  {"月份":"2019-06-01","Anadarko":900,"Bakken":750,"Eagle Ford":1450,"Haynesville":200,"Niobrara":500,"Permian":3850,"Appalachia":450},
  {"月份":"2019-07-01","Anadarko":850,"Bakken":700,"Eagle Ford":1400,"Haynesville":250,"Niobrara":400,"Permian":3800,"Appalachia":500}
 ]},
 "transform":[
  {"fold":["Anadarko","Bakken","Eagle Ford","Haynesville","Niobrara","Permian","Appalachia"],"as":["盆地","DUC"]},
  {"lookup":"盆地","from":{"data":{"values":[{"盆地":"Anadarko","序":1},{"盆地":"Bakken","序":2},{"盆地":"Eagle Ford","序":3},{"盆地":"Haynesville","序":4},{"盆地":"Niobrara","序":5},{"盆地":"Permian","序":6},{"盆地":"Appalachia","序":7}]},"key":"盆地","fields":["序"]}}
 ],
 "mark":{"type":"area","interpolate":"monotone"},
 "encoding":{
  "x":{"field":"月份","type":"temporal","scale":{"type":"utc","range":[36,330],"domain":[{"year":2013,"month":12,"date":1,"utc":true},{"year":2019,"month":7,"date":1,"utc":true}]},
    "axis":{"title":null,"offset":-3,"format":"%b-%y","labelAngle":-90,"labelAlign":"right","labelBaseline":"middle","labelFontSize":9,
    "values":[{"year":2013,"month":12,"date":1,"utc":true},{"year":2014,"month":3,"date":1,"utc":true},{"year":2014,"month":6,"date":1,"utc":true},{"year":2014,"month":9,"date":1,"utc":true},{"year":2014,"month":12,"date":1,"utc":true},{"year":2015,"month":3,"date":1,"utc":true},{"year":2015,"month":6,"date":1,"utc":true},{"year":2015,"month":9,"date":1,"utc":true},{"year":2015,"month":12,"date":1,"utc":true},{"year":2016,"month":3,"date":1,"utc":true},{"year":2016,"month":6,"date":1,"utc":true},{"year":2016,"month":9,"date":1,"utc":true},{"year":2016,"month":12,"date":1,"utc":true},{"year":2017,"month":3,"date":1,"utc":true},{"year":2017,"month":6,"date":1,"utc":true},{"year":2017,"month":9,"date":1,"utc":true},{"year":2017,"month":12,"date":1,"utc":true},{"year":2018,"month":3,"date":1,"utc":true},{"year":2018,"month":6,"date":1,"utc":true},{"year":2018,"month":9,"date":1,"utc":true},{"year":2018,"month":12,"date":1,"utc":true},{"year":2019,"month":3,"date":1,"utc":true},{"year":2019,"month":6,"date":1,"utc":true}]}},
  "y":{"field":"DUC","type":"quantitative","stack":"zero","scale":{"domain":[0,10000],"range":[173,0]},"axis":{"title":null,"offset":-36,"labelFontSize":9,"labelOverlap":false,"values":[0,1000,2000,3000,4000,5000,6000,7000,8000,9000,10000],"labelExpr":"datum.value == 0 ? ' -' : format(datum.value, ',')"}},
  "color":{"field":"盆地","type":"nominal","scale":{"domain":["Anadarko","Bakken","Eagle Ford","Haynesville","Niobrara","Permian","Appalachia"],"range":["#1F3864","#2E6DB4","#505050","#FFC000","#4FB3E0","#7F7F7F","#BFBFBF"]},
    "legend":{"orient":"none","legendX":20,"legendY":-4,"direction":"horizontal","title":null,"symbolType":"square","symbolSize":25,"labelFont":"Liberation Sans","labelFontSize":8,"columnPadding":2.5,"labelOffset":2}},
  "order":{"field":"序","type":"quantitative"}
 }},

{"width":67,"height":1,"data":{"values":[]},"mark":"point"},
{"width":1,"height":48,"data":{"values":[]},"mark":"point"},
{"width":39,"height":1,"data":{"values":[]},"mark":"point"},
{"width":1,"height":1,"data":{"values":[]},"mark":"point"},

{"width":67,"height":1,"data":{"values":[]},"mark":"point"},
{"width":334,"height":20,"data":{"values":[{"来源":"数据来源：Bloomberg，建信期货研报中心"}]},"mark":{"type":"text","align":"left","baseline":"middle","dx":11,"fontSize":13,"fontStyle":"italic","color":"#262626"},"encoding":{"text":{"field":"来源"},"x":{"datum":0,"type":"quantitative","scale":{"domain":[0,1]},"axis":null}}},
{"width":39,"height":1,"data":{"values":[]},"mark":"point"},
{"width":325,"height":20,"data":{"values":[{"来源":"数据来源：EIA，建信期货研报中心"}]},"mark":{"type":"text","align":"left","baseline":"middle","dx":9,"fontSize":13,"fontStyle":"italic","color":"#262626"},"encoding":{"text":{"field":"来源"},"x":{"datum":0,"type":"quantitative","scale":{"domain":[0,1]},"axis":null}}},

{"width":67,"height":1,"data":{"values":[]},"mark":"point"},
{"width":1,"height":54,"data":{"values":[]},"mark":"point"},
{"width":39,"height":1,"data":{"values":[]},"mark":"point"},
{"width":1,"height":1,"data":{"values":[]},"mark":"point"},

{"width":67,"height":3,"data":{"values":[{}]},"mark":{"type":"rule","color":"#26265E","strokeWidth":2.5},"encoding":{"x":{"datum":58,"type":"quantitative","scale":{"domain":[0,67]},"axis":null},"x2":{"datum":67},"y":{"datum":0.5,"type":"quantitative","scale":{"domain":[0,1]},"axis":null}}},
{"width":334,"height":3,"data":{"values":[{}]},"mark":{"type":"rule","color":"#26265E","strokeWidth":2.5},"encoding":{"y":{"datum":0.5,"type":"quantitative","scale":{"domain":[0,1]},"axis":null}}},
{"width":39,"height":3,"data":{"values":[{}]},"mark":{"type":"rule","color":"#26265E","strokeWidth":2.5},"encoding":{"y":{"datum":0.5,"type":"quantitative","scale":{"domain":[0,1]},"axis":null}}},
{"width":325,"height":3,"data":{"values":[{}]},"mark":{"type":"rule","color":"#26265E","strokeWidth":2.5},"encoding":{"x":{"datum":0,"type":"quantitative","scale":{"domain":[0,325]},"axis":null},"x2":{"datum":300},"y":{"datum":0.5,"type":"quantitative","scale":{"domain":[0,1]},"axis":null}}},

{"width":67,"height":1,"data":{"values":[]},"mark":"point"},
{"width":334,"height":20,"data":{"values":[{"文字":"请阅读正文后的声明"}]},"mark":{"type":"text","align":"center","baseline":"middle","fontSize":13,"fontWeight":"bold","color":"#2B2B6E"},"encoding":{"text":{"field":"文字"},"x":{"datum":1,"type":"quantitative","scale":{"domain":[0,1]},"axis":null}}},
{"width":39,"height":1,"data":{"values":[]},"mark":"point"},
{"width":325,"height":20,"data":{"values":[{"文字":"- 7 -"}]},"mark":{"type":"text","align":"center","baseline":"middle","fontSize":14,"color":"#2B2B6E"},"encoding":{"text":{"field":"文字"},"x":{"datum":282,"type":"quantitative","scale":{"domain":[0,325]},"axis":null}}}
]
}
